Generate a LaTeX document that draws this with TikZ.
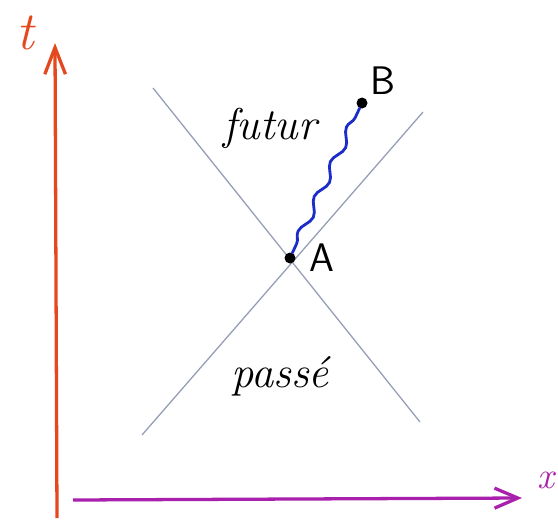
\documentclass[tikz,border=0pt]{standalone}
\usepackage{tikz}
\usetikzlibrary{arrows.meta, positioning, decorations.pathmorphing}

\definecolor{tred}{RGB}{228,72,30}
\definecolor{xpurple}{RGB}{168,32,172}
\definecolor{conegrey}{RGB}{150,158,182}
\definecolor{pathblue}{RGB}{28,44,200}

\begin{document}
\begin{tikzpicture}[
  x=0.03cm, y=-0.03cm,
  node distance=5mm,
  taxis/.style={draw=tred, line width=2.8pt, -{Straight Barb[length=0.8cm, width=0.62cm, line width=2.8pt]}},
  xaxis/.style={draw=xpurple, line width=2.8pt, -{Straight Barb[length=0.7cm, width=0.6cm, line width=2.8pt]}},
  cone/.style={draw=conegrey, line width=1.1pt},
  worldline/.style={draw=pathblue, line width=2.4pt, line cap=round, decorate,
    decoration={snake, segment length=1.15cm, amplitude=0.12cm, pre length=3mm, post length=3mm}},
  event/.style={circle, fill=black, inner sep=0pt, minimum size=0.33cm},
  word/.style={font=\fontsize{38}{44}\selectfont\itshape},
  pointlabel/.style={font=\fontsize{34}{38}\selectfont\sffamily}
]
\useasboundingbox (0,0) rectangle (558,522);

% axes
\coordinate (tbot) at (57,518);
\coordinate (ttop) at (55,43);
\coordinate (xleft) at (73,500);
\coordinate (xright) at (522,498);
\draw[taxis] (tbot) -- (ttop);
\draw[xaxis] (xleft) -- (xright);
\node[text=tred, font=\fontsize{46}{50}\selectfont\itshape] (tlabel) at (25,33) {t};
\node[text=xpurple, font=\fontsize{32}{36}\selectfont\itshape] (xlabel) at (546,480) {x};

% light cone
\coordinate (c1top) at (153,88);
\coordinate (c1bot) at (420,422);
\coordinate (c2top) at (423,112);
\coordinate (c2bot) at (142,435);
\draw[cone] (c1top) -- (c1bot);
\draw[cone] (c2top) -- (c2bot);

% events
\node[event] (A) at (290,258) {};
\node[event] (B) at (362,103) {};
\node[pointlabel, right=3mm of A] (Alabel) {A};
\node[pointlabel, above right=0mm and 0mm of B] (Blabel) {B};
\draw[worldline] (A) -- (B);

\node[word] (futur) at (270,128) {futur};
\node[word] (passe) at (280,376) {passé};
\end{tikzpicture}
\end{document}
